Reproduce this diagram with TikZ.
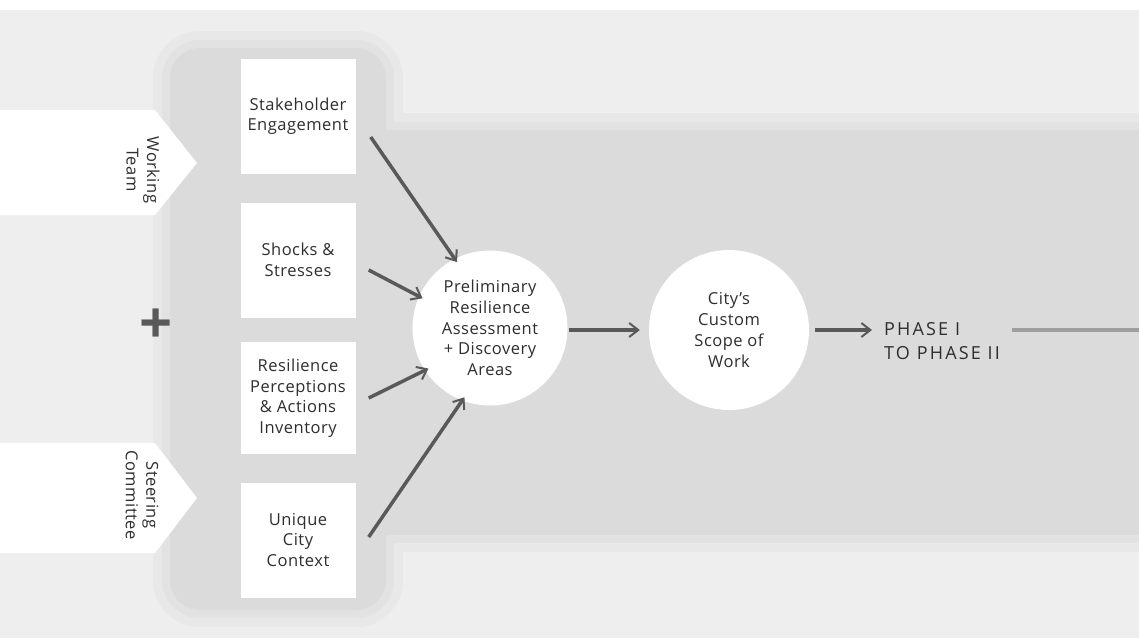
\documentclass[tikz,border=0pt]{standalone}
\usepackage{fontspec}
\setmainfont{Open Sans}[LetterSpace=3]
\newfontfamily\phasefont{Open Sans}[LetterSpace=12]
\usetikzlibrary{arrows.meta}
\usetikzlibrary{positioning}

\definecolor{bglight}{gray}{0.935}
\definecolor{bgsoft}{gray}{0.91}
\definecolor{bgmid}{gray}{0.885}
\definecolor{bgdense}{gray}{0.86}
\definecolor{inkgray}{gray}{0.18}
\definecolor{arrowgray}{gray}{0.35}

\tikzset{
    infobox/.style={fill=white, minimum width=115, minimum height=115, align=center,
        text=inkgray, font=\fontsize{16.5}{20.5}\selectfont},
    bubble/.style={circle, fill=white, align=center, text=inkgray, inner sep=0,
        font=\fontsize{16.5}{20.8}\selectfont},
    sidelabel/.style={rotate=-90, align=center, text=inkgray,
        font=\fontsize{16.5}{20.5}\selectfont},
    feed/.style={-{Straight Barb[length=9pt, width=14pt, line width=2pt]},
        line width=3.5pt, arrowgray, shorten >=-4pt},
}

\begin{document}
\begin{tikzpicture}[x=1pt, y=-1pt]
    \useasboundingbox (0,0) rectangle (1139,638);
    % Stippled background
    \fill[bglight] (0,10) rectangle (1139,638);
    \draw[bgsoft, line width=34pt, rounded corners=30] (170,48) rectangle (386,610);
    \draw[bgsoft, line width=34pt] (370,130) rectangle (1170,535);
    \draw[bgmid, line width=16pt, rounded corners=30] (170,48) rectangle (386,610);
    \draw[bgmid, line width=16pt] (370,130) rectangle (1170,535);
    \fill[bgdense, rounded corners=30] (170,48) rectangle (386,610);
    \fill[bgdense] (370,130) rectangle (1170,535);
    % Teams
    \fill[white] (0,110) -- (155,110) -- (197,163) -- (155,215) -- (0,215) -- cycle;
    \fill[white] (0,443) -- (155,443) -- (197,498) -- (155,553) -- (0,553) -- cycle;
    \node[sidelabel] (team) at (143,170) {Working\\Team};
    \node[sidelabel] (committee) at (142,495) {Steering\\Committee};
    \node[text=arrowgray, font=\fontsize{58}{58}\selectfont\bfseries] (plus) at (156,326) {+};
    % Inputs
    \node[infobox] (stake) at (298,116) {Stakeholder\\Engagement};
    \node[infobox] (shocks) at (298,260) {Shocks \&\\Stresses};
    \node[infobox, minimum height=112] (percep) at (298,398) {Resilience\\Perceptions\\\& Actions\\Inventory};
    \node[infobox] (context) at (298,540) {Unique\\City\\Context};
    % Assessment and scope
    \node[bubble, minimum size=155] (prelim) at (490,328) {Preliminary\\Resilience\\Assessment\\+ Discovery\\Areas};
    \node[bubble, minimum size=160] (scope) at (729,330) {City's\\Custom\\Scope of\\Work};
    \node[anchor=west, align=left, text=inkgray, inner sep=0,
        font=\phasefont\fontsize{18}{24}\selectfont] (phase) at (884,341) {PHASE I\\TO PHASE II};
    \coordinate (exit) at (1139,330);
    % Arrows
    \draw[feed] ([xshift=15pt, yshift=-21pt]stake.east) -- (prelim.117);
    \draw[feed] ([xshift=13pt, yshift=-10pt]shocks.east) -- (prelim.156);
    \draw[feed] ([xshift=13pt]percep.east) -- (prelim.213);
    \draw[feed] ([xshift=13pt, yshift=3pt]context.east) -- (prelim.249);
    \draw[feed, shorten <=1pt, shorten >=9pt] (prelim.east |- scope.east) -- (scope.west);
    \draw[feed, shorten <=6pt, shorten >=12pt] (scope.east) -- (scope.east -| phase.west);
    \draw[line width=4pt, gray!75] ([xshift=12pt]phase.east |- scope.east) -- (exit);
\end{tikzpicture}
\end{document}
